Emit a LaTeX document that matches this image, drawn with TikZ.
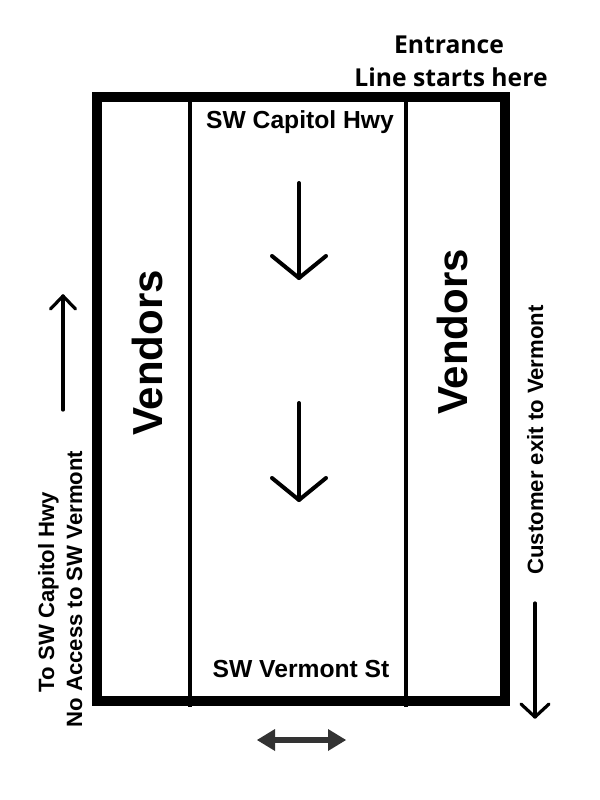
\documentclass[tikz,border=0pt]{standalone}
\usepackage{fontspec}
\setmainfont{Liberation Sans}
\newfontfamily\entfont{Open Sans}
\usetikzlibrary{calc}
\begin{document}
\begin{tikzpicture}[x=0.75pt,y=-0.75pt,
  frame/.style={line width=7.5pt},
  divider/.style={line width=3pt},
  bigarr/.style={line width=3pt,line cap=round,line join=round},
  sidearr/.style={line width=2.4pt,line cap=round,line join=round},
  lbl/.style={inner sep=0pt,outer sep=0pt},
  vend/.style={lbl,font=\fontsize{31.5pt}{36pt}\selectfont\bfseries,rotate=90,anchor=base},
  side/.style={lbl,font=\fontsize{16.6pt}{20pt}\selectfont\bfseries,rotate=90,anchor=base},
  road/.style={lbl,font=\fontsize{18.5pt}{22pt}\selectfont\bfseries,anchor=base},
  ent/.style={lbl,font=\entfont\fontsize{18.5pt}{22pt}\selectfont\bfseries,anchor=base},
  dbl/.style={draw=none,fill=black!80}]
\useasboundingbox (0,0) rectangle (600,800);
\fill[white] (0,0) rectangle (600,800);
% frame and dividers
\draw[frame] (97,97) rectangle (505,701);
\coordinate (d1t) at (190,92); \coordinate (d1b) at (190,707);
\coordinate (d2t) at (406,92); \coordinate (d2b) at (406,707);
\draw[divider] (d1t) -- (d1b);
\draw[divider] (d2t) -- (d2b);
% texts
\node[ent] (entr) at (449,53) {Entrance};
\node[ent] (line) at (451,86) {Line starts here};
\node[road] (cap) at (300,128) {SW Capitol Hwy};
\node[road] (ver) at (301,677) {SW Vermont St};
\node[vend] (vl) at (162,353) {Vendors};
\node[vend] (vr) at (467,332) {Vendors};
\node[side] (to) at (54,592) {To SW Capitol Hwy};
\node[side] (no) at (82,589) {No Access to SW Vermont};
\node[side] (exit) at (543,440) {Customer exit to Vermont};
% middle arrows
\coordinate (a1s) at (299,183); \coordinate (a1e) at (299,278);
\coordinate (a2s) at (299,403); \coordinate (a2e) at (299,500);
\draw[bigarr] (a1s) -- (a1e);
\draw[bigarr] ($(a1e)+(-27,-22)$) -- (a1e) -- ($(a1e)+(27,-22)$);
\draw[bigarr] (a2s) -- (a2e);
\draw[bigarr] ($(a2e)+(-27,-22)$) -- (a2e) -- ($(a2e)+(27,-22)$);
% left up arrow
\coordinate (ls) at (63,410); \coordinate (le) at (63,296);
\draw[sidearr] (ls) -- (le);
\draw[sidearr] ($(le)+(-12.5,13)$) -- (le) -- ($(le)+(12.5,13)$);
% right down arrow
\coordinate (rs) at (535,603); \coordinate (re) at (535,717);
\draw[sidearr] (rs) -- (re);
\draw[sidearr] ($(re)+(-14,-13)$) -- (re) -- ($(re)+(14,-13)$);
% bottom double arrow
\coordinate (bl) at (257,740); \coordinate (br) at (346,740);
\draw[line width=4.5pt,black!80] ($(bl)+(16,0)$) -- ($(br)+(-16,0)$);
\fill[dbl] (bl) -- ($(bl)+(18,-11)$) -- ($(bl)+(18,11)$) -- cycle;
\fill[dbl] (br) -- ($(br)+(-18,-11)$) -- ($(br)+(-18,11)$) -- cycle;
\end{tikzpicture}
\end{document}
